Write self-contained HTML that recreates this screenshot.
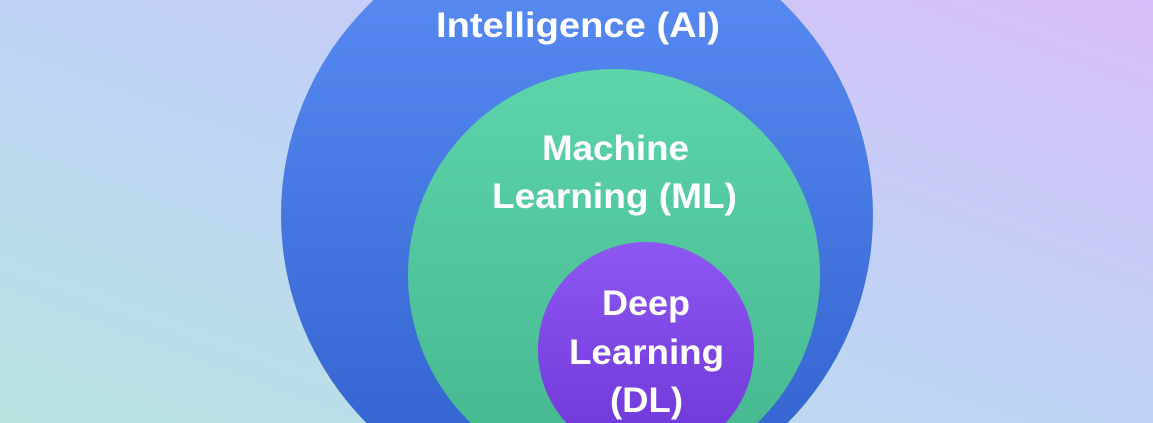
<!DOCTYPE html>
<html><head><style>
html,body{margin:0;padding:0;width:1153px;height:423px;overflow:hidden}
</style></head><body>
<svg width="1153" height="423" viewBox="0 0 1153 423" xmlns="http://www.w3.org/2000/svg">
<defs>
<linearGradient id="bg" x1="0" y1="1" x2="1" y2="0">
<stop offset="0" stop-color="#b8e4e0"/>
<stop offset="0.5" stop-color="#bfd3f6"/>
<stop offset="1" stop-color="#d8bef8"/>
</linearGradient>
<linearGradient id="ai" x1="0" y1="0" x2="0" y2="1">
<stop offset="0" stop-color="#5c8ff6"/>
<stop offset="1" stop-color="#2f5fcb"/>
</linearGradient>
<linearGradient id="ml" x1="0" y1="0" x2="0" y2="1">
<stop offset="0" stop-color="#5dd4aa"/>
<stop offset="1" stop-color="#44b68e"/>
</linearGradient>
<linearGradient id="dl" x1="0" y1="0" x2="0" y2="1">
<stop offset="0" stop-color="#8d57f2"/>
<stop offset="1" stop-color="#6e36d6"/>
</linearGradient>
</defs>
<rect width="1153" height="423" fill="url(#bg)"/>
<circle cx="577" cy="215" r="296" fill="url(#ai)"/>
<circle cx="614" cy="275" r="206" fill="url(#ml)"/>
<circle cx="646" cy="350" r="108" fill="url(#dl)"/>
<g font-family="Liberation Sans, sans-serif" font-weight="bold" font-size="35" fill="#fff">
<text x="436" y="37" textLength="284" lengthAdjust="spacingAndGlyphs">Intelligence (AI)</text>
<text x="542" y="160" textLength="147" lengthAdjust="spacingAndGlyphs">Machine</text>
<text x="492" y="208" textLength="245" lengthAdjust="spacingAndGlyphs">Learning (ML)</text>
<text x="602" y="315" textLength="88" lengthAdjust="spacingAndGlyphs">Deep</text>
<text x="569" y="364" textLength="155" lengthAdjust="spacingAndGlyphs">Learning</text>
<text x="610" y="412" textLength="73" lengthAdjust="spacingAndGlyphs">(DL)</text>
</g>
</svg>
</body></html>
